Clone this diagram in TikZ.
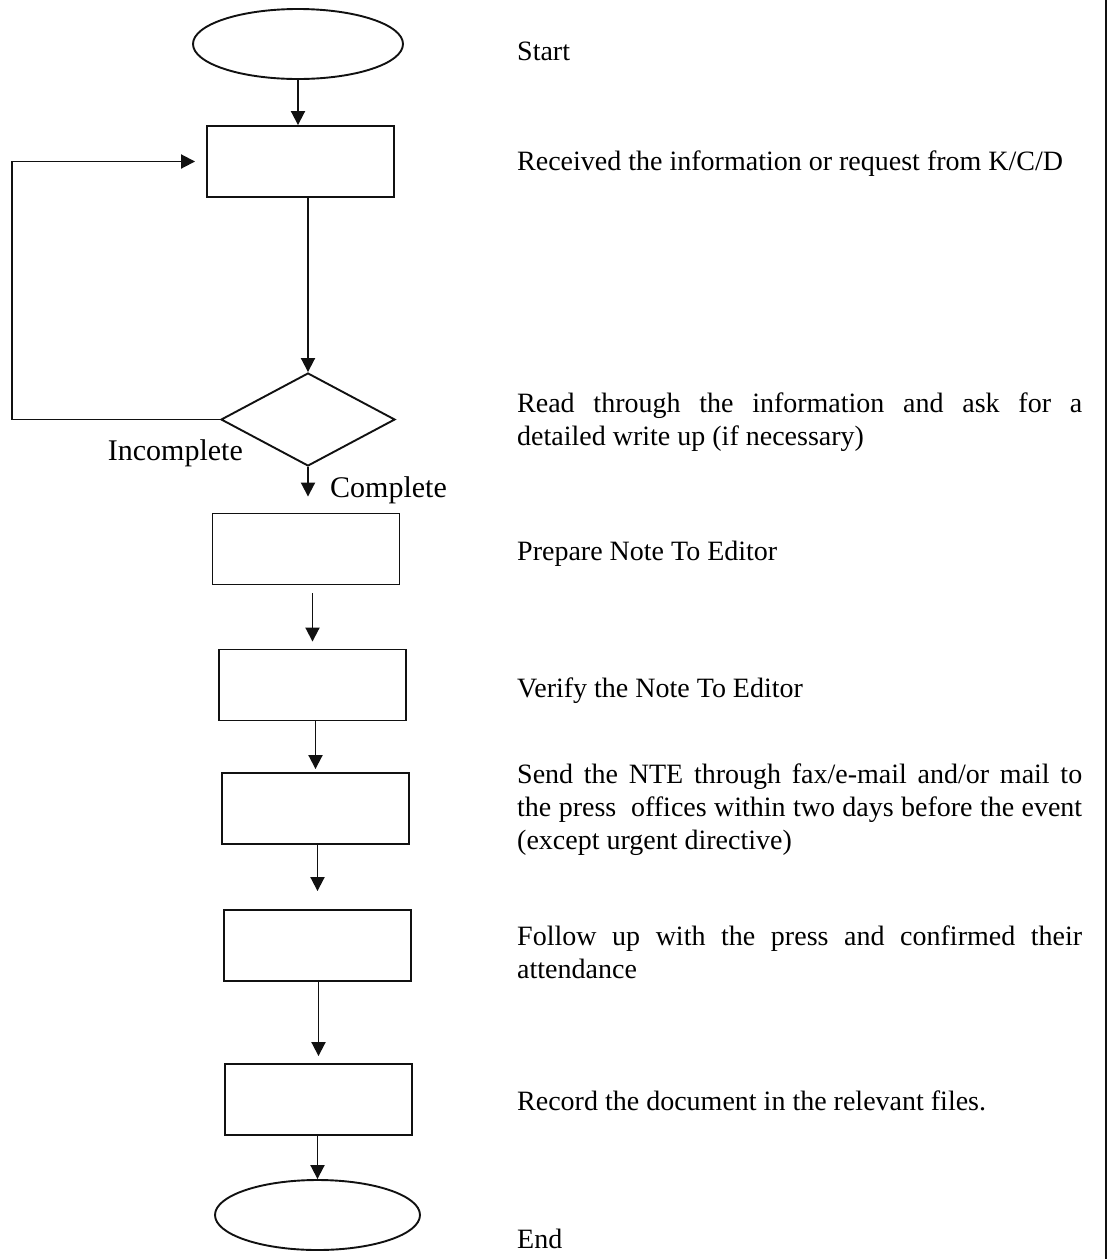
\documentclass[tikz,border=0pt]{standalone}
\usepackage{fontspec}
\setmainfont{Liberation Serif}
\usepackage{tikz}
\usetikzlibrary{arrows.meta,shapes.geometric}
\definecolor{inkc}{HTML}{111111}
\tikzset{
  ar/.style={-{Triangle[length=14pt,width=14pt]},line width=1.9pt,inkc},
  box/.style={draw=inkc,line width=1.9pt,minimum width=187pt,minimum height=71pt,inner sep=0pt},
  term/.style={ellipse,draw=inkc,line width=1.9pt,minimum width=210pt,minimum height=70pt,inner sep=0pt},
  dec/.style={diamond,draw=inkc,line width=1.9pt,minimum width=174pt,minimum height=93pt,inner sep=0pt},
  note/.style={anchor=base west,text width=565pt,align=justify,inner sep=0pt,
    font=\fontsize{28}{33}\selectfont},
  tag/.style={inner sep=0pt,font=\fontsize{30}{34}\selectfont}
}

\begin{document}
\begin{tikzpicture}[x=1pt,y=-1pt]
\useasboundingbox (0,0) rectangle (1112,1259);
% flow chart
\node[term] (start) at (298,44) {};
\node[box] (recv) at (300.5,161.5) {};
\node[dec] (chk) at (308,419.5) {};
\node[box] (prep) at (306,549) {};
\node[box] (verify) at (312.5,685) {};
\node[box] (send) at (315.5,808.5) {};
\node[box] (follow) at (317.5,945.5) {};
\node[box] (record) at (318.5,1099.5) {};
\node[term,minimum width=205pt] (stop) at (317.5,1215) {};
\coordinate (lp) at (12,420);
\draw[ar] (start.south) -- (start.south |- recv.north);
\draw[ar] (recv.south -| chk.north) -- (chk.north);
\draw[ar,shorten >=16pt] (chk.south) -- (chk.south |- prep.north);
\draw[ar,shorten <=8pt,shorten >=7pt] (prep.south -| verify) -- (verify.north);
\draw[ar,shorten >=3pt] (verify.south -| send) -- (send.north);
\draw[ar,shorten >=18pt] (send.south -| follow) -- (follow.north);
\draw[ar,shorten >=7pt] (follow.south -| record) -- (record.north);
\draw[ar] (record.south -| stop) -- (stop.north);
\draw[ar,shorten >=11pt] (chk.west) -- (lp |- chk.west) |- (recv.west);
\node[tag,anchor=base east] (inc) at (243,460) {Incomplete};
\node[tag,anchor=base west] (cmp) at (330,497) {Complete};
% descriptions
\node[note] (tstart) at (517,60) {Start};
\node[note] (trecv) at (517,170) {Received the information or request from K/C/D};
\node[note] (tchk) at (517,412) {Read through the information and ask for a\linebreak detailed write up (if necessary)};
\node[note] (tprep) at (517,560) {Prepare Note To Editor};
\node[note] (tverify) at (517,697) {Verify the Note To Editor};
\node[note] (tsend) at (517,783) {Send the NTE through fax/e-mail and/or mail to\linebreak the press~ offices within two days before the event\linebreak (except urgent directive)};
\node[note] (tfollow) at (517,945) {Follow up with the press and confirmed their\linebreak attendance};
\node[note] (trecord) at (517,1110) {Record the document in the relevant files.};
\node[note] (tstop) at (517,1248) {End};
\draw[inkc,line width=1.2pt] (1106,0) -- (1106,1259);
\end{tikzpicture}
\end{document}
